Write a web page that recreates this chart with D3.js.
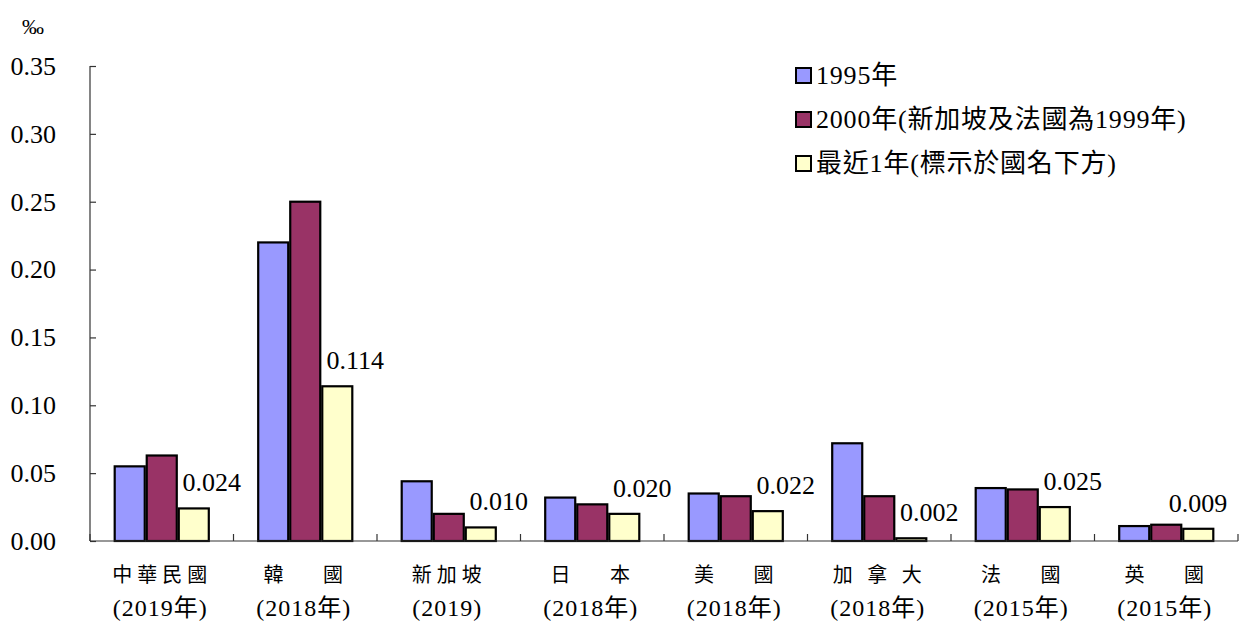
<!DOCTYPE html>
<html>
<head>
<meta charset="utf-8">
<script src="https://cdn.jsdelivr.net/npm/d3@7"></script>
<style>
  html, body { margin: 0; padding: 0; background: #fff; }
  svg { display: block; }
  text { font-family: "Liberation Serif", "Noto Sans CJK TC", serif; fill: #000; }
</style>
</head>
<body>
<svg id="chart" width="1240" height="621"></svg>
<script>
// Countries (name line, year line)
const countryNames = ["中華民國", "韓 　國", "新加坡", "日 　本", "美 　國", "加 拿 大", "法 　國", "英 　國"];
const countryYears = ["(2019年)", "(2018年)", "(2019)", "(2018年)", "(2018年)", "(2018年)", "(2015年)", "(2015年)"];

// Series
const seriesNames = ["1995年", "2000年(新加坡及法國為1999年)", "最近1年(標示於國名下方)"];
const values1995   = [0.055, 0.220, 0.044, 0.032, 0.035, 0.072, 0.039, 0.011];
const values2000   = [0.063, 0.250, 0.020, 0.027, 0.033, 0.033, 0.038, 0.012];
const valuesLatest = [0.024, 0.114, 0.010, 0.020, 0.022, 0.002, 0.025, 0.009];

const yTicks = [0, 0.05, 0.10, 0.15, 0.20, 0.25, 0.30, 0.35];
const colors = ["#9999FF", "#993366", "#FFFFCC"];

const seriesValues = [values1995, values2000, valuesLatest];

const serif = '"Liberation Serif", "Noto Sans CJK TC", serif';
const cjk = '"Noto Sans CJK TC", sans-serif';

const svg = d3.select("#chart");
const plotLeft = 90, plotRight = 1238, plotTop = 66, plotBottom = 541;

const x = d3.scaleBand().domain(d3.range(countryNames.length)).range([plotLeft, plotRight]).padding(0);
const xs = d3.scaleBand().domain(d3.range(3)).range([0, x.bandwidth()]).paddingInner(0).paddingOuter(0.74);
const y = d3.scaleLinear().domain([0, 0.35]).range([plotBottom, plotTop]);

// Bars
const groups = svg.append("g").selectAll("g")
  .data(countryNames.map((n, i) => i))
  .join("g")
  .attr("transform", i => `translate(${x(i)},0)`);

groups.selectAll("rect")
  .data(i => seriesValues.map((vals, s) => ({ s, v: vals[i] })))
  .join("rect")
  .attr("x", d => xs(d.s) + 1)
  .attr("width", xs.bandwidth() - 2)
  .attr("y", d => y(d.v))
  .attr("height", d => y(0) - y(d.v))
  .attr("fill", d => colors[d.s])
  .attr("stroke", "#000")
  .attr("stroke-width", 2.2);

// Value labels for the latest-year series
groups.append("text")
  .attr("x", i => {
    const cx = x(i) + xs(2) + xs.bandwidth() / 2 + 18;
    return Math.min(cx, plotRight - 40) - x(i);
  })
  .attr("y", i => y(valuesLatest[i]) - 17)
  .attr("text-anchor", "middle")
  .style("font-family", serif)
  .style("font-size", "26px")
  .text(i => d3.format(".3f")(valuesLatest[i]));

// Y axis
const yAxis = d3.axisLeft(y).tickValues(yTicks).tickSize(-6).tickPadding(34)
  .tickFormat(d3.format(".2f"));
const gy = svg.append("g").attr("transform", `translate(${plotLeft},0)`).call(yAxis);
gy.select(".domain").attr("stroke", "#333").attr("stroke-width", 1.2).attr("d", `M0,${plotTop}V${plotBottom}`);
gy.selectAll(".tick line").attr("stroke", "#333").attr("stroke-width", 1.2);
gy.selectAll(".tick text")
  .style("font-family", serif)
  .style("font-size", "26px")
  .attr("fill", "#000");

// X axis
const gx = svg.append("g").attr("transform", `translate(0,${plotBottom})`);
gx.append("line").attr("x1", plotLeft).attr("x2", plotRight).attr("y1", 0).attr("y2", 0)
  .attr("stroke", "#333").attr("stroke-width", 1.2);
gx.selectAll("line.tk")
  .data(d3.range(countryNames.length + 1))
  .join("line")
  .attr("class", "tk")
  .attr("x1", i => plotLeft + i * x.step()).attr("x2", i => plotLeft + i * x.step())
  .attr("y1", 0).attr("y2", -7)
  .attr("stroke", "#333").attr("stroke-width", 1.2);

const labels = gx.selectAll("g.lbl")
  .data(countryNames.map((n, i) => i))
  .join("g")
  .attr("class", "lbl")
  .attr("transform", i => `translate(${x(i) + x.bandwidth() / 2 - 2},0)`);
labels.append("text")
  .attr("x", 2.5)
  .attr("y", 41)
  .attr("text-anchor", "middle")
  .style("font-family", cjk)
  .style("font-size", "20px")
  .style("letter-spacing", "5px")
  .style("white-space", "pre")
  .text(i => countryNames[i]);
labels.append("text")
  .attr("x", 0.5)
  .attr("y", 75)
  .attr("text-anchor", "middle")
  .style("font-family", serif)
  .style("font-size", "24px")
  .style("letter-spacing", "1px")
  .text(i => countryYears[i]);

// Unit
svg.append("text").attr("x", 22).attr("y", 34)
  .style("font-family", serif).style("font-size", "22px").text("‰");

// Legend
const legend = svg.append("g").selectAll("g")
  .data(seriesNames.map((n, i) => i))
  .join("g")
  .attr("transform", i => `translate(796,${75 + i * 44})`);
legend.append("rect")
  .attr("x", 0).attr("y", -7).attr("width", 15).attr("height", 15)
  .attr("fill", i => colors[i]).attr("stroke", "#000").attr("stroke-width", 2);
legend.append("text")
  .attr("x", 20).attr("y", 9)
  .style("font-family", serif)
  .style("font-size", "26px")
  .style("letter-spacing", "0.8px")
  .text(i => seriesNames[i]);
</script>
</body>
</html>
